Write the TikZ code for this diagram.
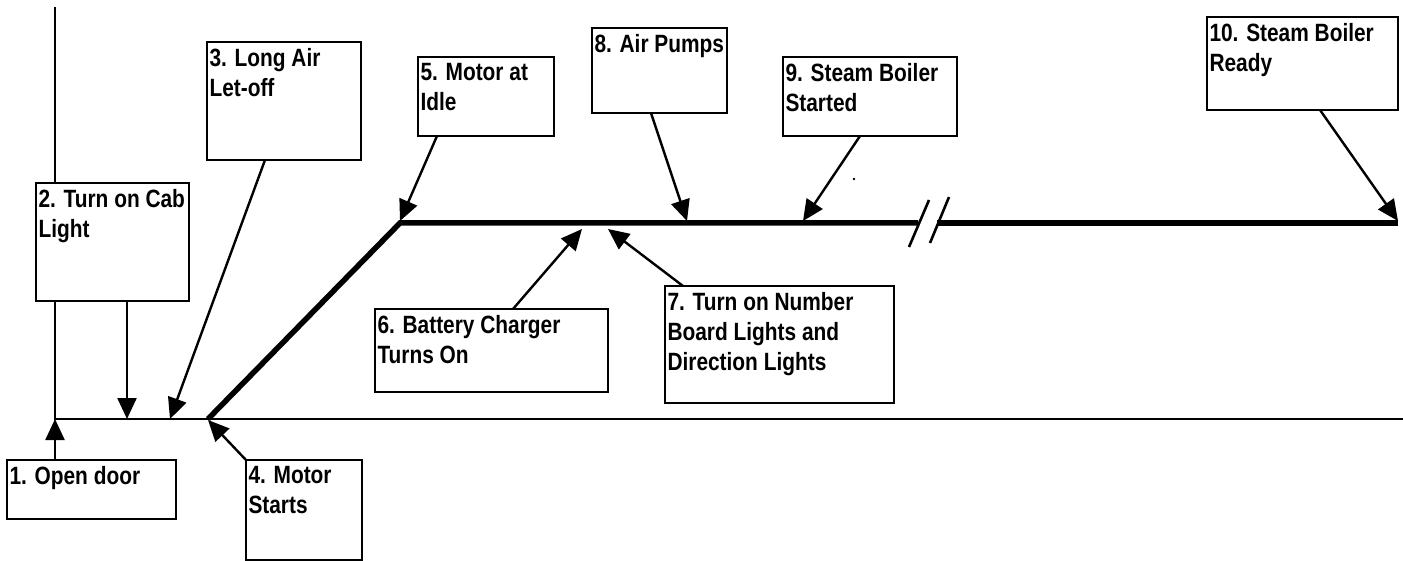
\documentclass[tikz,border=0pt]{standalone}
\usepackage{fontspec}
\setmainfont{Liberation Sans}[FakeStretch=0.835]
\usetikzlibrary{arrows.meta}
\newcommand\boxbody[3]{\parbox[c][\dimexpr#2pt-12pt\relax][t]{\dimexpr#1pt-5pt\relax}{\raggedright#3}}
\tikzset{
  stepbox/.style={draw, line width=2pt, fill=white, anchor=north west, inner xsep=2.5pt, inner ysep=6pt, outer sep=0pt, font=\bfseries\fontsize{25}{30}\selectfont},
  arr/.style={line width=2.4pt, -{Triangle[length=21pt,width=19pt]}},
  thinline/.style={line width=2.2pt},
  thickline/.style={line width=5.5pt, line join=miter},
  slash/.style={line width=2.6pt}
}
\begin{document}
\begin{tikzpicture}[x=1pt,y=-1pt]
\useasboundingbox (0,0) rectangle (1403,561);
% coordinates on the lines
\coordinate (v0) at (55,7);
\coordinate (p1) at (55,419);
\coordinate (r0) at (1403,419);
\coordinate (k0) at (208,419);
\coordinate (k1) at (400,223);
\coordinate (k2) at (918,223);
\coordinate (k3) at (937,223);
\coordinate (k4) at (1398,223);
\coordinate (s1a) at (909,247);
\coordinate (s1b) at (929,200);
\coordinate (s2a) at (930,243);
\coordinate (s2b) at (949,197);
\coordinate (p2) at (127,419);
\coordinate (p3) at (170,419);
\coordinate (p4) at (208,420);
\coordinate (p5) at (400,221);
\coordinate (p6) at (582,229);
\coordinate (p7) at (608,229);
\coordinate (p8) at (687,221);
\coordinate (p9) at (803,221);
\coordinate (p10) at (1398,221);
% lines
\draw[thinline] (v0) -- (p1) -- (r0);
\draw[thickline] (k0) -- (k1) -- (k2);
\draw[thickline] (k3) -- (k4);
\draw[slash] (s1a) -- (s1b);
\draw[slash] (s2a) -- (s2b);
\fill (854,179) circle (1.3pt);
% boxes
\node[stepbox] (b1) at (7,460) {\boxbody{169}{59}{1. Open door}};
\node[stepbox] (b2) at (36,183) {\boxbody{153}{118}{2. Turn on Cab\\Light}};
\node[stepbox] (b3) at (207,42) {\boxbody{154}{118}{3. Long Air\\Let-off}};
\node[stepbox] (b4) at (246,460) {\boxbody{116}{100}{4. Motor\\Starts}};
\node[stepbox] (b5) at (418,57) {\boxbody{136}{79}{5. Motor at\\Idle}};
\node[stepbox] (b6) at (375,309) {\boxbody{233}{83}{6. Battery Charger\\Turns On}};
\node[stepbox] (b7) at (665,286) {\boxbody{229}{117}{7. Turn on Number\\Board Lights and\\Direction Lights}};
\node[stepbox] (b8) at (592,28) {\boxbody{135}{85}{8. Air Pumps}};
\node[stepbox] (b9) at (783,57) {\boxbody{174}{79}{9. Steam Boiler\\Started}};
\node[stepbox] (b10) at (1207,17) {\boxbody{191}{93}{10. Steam Boiler\\Ready}};
% connectors
\draw[arr] (b1.north -| p1) -- (p1);
\draw[arr] (b2.south -| p2) -- (p2);
\draw[arr] ([xshift=58pt]b3.south west) -- (p3);
\draw[arr] (b4.north west) -- (p4);
\draw[arr] ([xshift=19pt]b5.south west) -- (p5);
\draw[arr] ([xshift=138pt]b6.north west) -- (p6);
\draw[arr] ([xshift=18pt]b7.north west) -- (p7);
\draw[arr] ([xshift=59pt]b8.south west) -- (p8);
\draw[arr] ([xshift=77pt]b9.south west) -- (p9);
\draw[arr] ([xshift=113pt]b10.south west) -- (p10);
\end{tikzpicture}
\end{document}
